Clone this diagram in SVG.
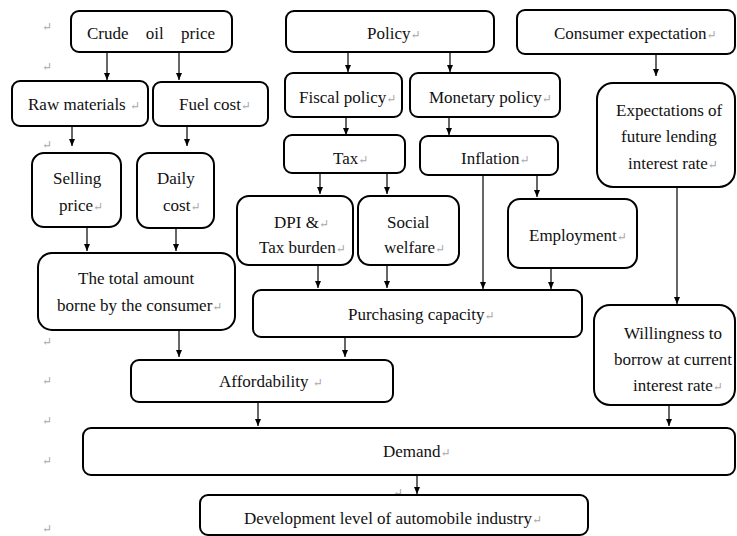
<svg xmlns="http://www.w3.org/2000/svg" width="737" height="536" viewBox="0 0 737 536">
<defs>
<marker id="ah" markerUnits="userSpaceOnUse" markerWidth="8" markerHeight="8" refX="7" refY="4" orient="auto">
<path d="M0,1 L7,4 L0,7 z" fill="#000"/>
</marker>
<style>
.b{fill:#fff;stroke:#000;stroke-width:2}
.t{font-size:17px;fill:#111}
.p{fill:#a8a8a8;font-size:12px}
.c line{stroke:#000;stroke-width:1.2;marker-end:url(#ah)}
</style>
</defs>
<rect width="737" height="536" fill="#fff"/>
<g font-family="'Liberation Serif', 'DejaVu Serif', serif">
<g id="marks" class="p">
<text x="42" y="31">↵</text>
<text x="42" y="71">↵</text>
<text x="42" y="149">↵</text>
<text x="42" y="187">↵</text>
<text x="42" y="227">↵</text>
<text x="42" y="346">↵</text>
<text x="42" y="385">↵</text>
<text x="42" y="425">↵</text>
<text x="42" y="465">↵</text>
<text x="42" y="533">↵</text>
<text x="393" y="497">↵</text>
</g>
<g class="c" id="connectors">
<line x1="107" y1="52" x2="107" y2="80"/>
<line x1="179" y1="52" x2="179" y2="80"/>
<line x1="348" y1="52" x2="348" y2="72"/>
<line x1="450" y1="52" x2="450" y2="72"/>
<line x1="656" y1="54" x2="656" y2="76"/>
<line x1="72" y1="126" x2="72" y2="146"/>
<line x1="187" y1="126" x2="187" y2="146"/>
<line x1="346" y1="117" x2="346" y2="135"/>
<line x1="449" y1="117" x2="449" y2="135"/>
<line x1="320" y1="173" x2="320" y2="194"/>
<line x1="387" y1="173" x2="387" y2="194"/>
<line x1="537" y1="175" x2="537" y2="197"/>
<line x1="483" y1="175" x2="483" y2="289"/>
<line x1="677" y1="187" x2="677" y2="304"/>
<line x1="87" y1="228" x2="87" y2="251"/>
<line x1="176" y1="228" x2="176" y2="251"/>
<line x1="318" y1="265" x2="318" y2="288"/>
<line x1="387" y1="265" x2="387" y2="288"/>
<line x1="551" y1="268" x2="551" y2="289"/>
<line x1="179" y1="331" x2="179" y2="357"/>
<line x1="345" y1="337" x2="345" y2="357"/>
<line x1="258" y1="403" x2="258" y2="426"/>
<line x1="669" y1="405" x2="669" y2="426"/>
<line x1="417" y1="476" x2="417" y2="494"/>
</g>
<g id="crude"><rect class="b" x="71" y="11" width="161" height="41" rx="8"/><text class="t" x="87" y="39" word-spacing="13">Crude oil price</text></g>
<g id="raw"><rect class="b" x="12" y="81" width="136" height="45" rx="8"/><text class="t" x="28" y="110">Raw materials <tspan class="p">↵</tspan></text></g>
<g id="fuel"><rect class="b" x="153" y="82" width="115" height="44" rx="8"/><text class="t" x="179" y="110">Fuel cost<tspan class="p">↵</tspan></text></g>
<g id="policy"><rect class="b" x="286" y="11" width="208" height="41" rx="8"/><text class="t" x="367" y="39">Policy<tspan class="p">↵</tspan></text></g>
<g id="consumer"><rect class="b" x="517" y="10" width="218" height="44" rx="8"/><text class="t" x="554" y="39">Consumer expectation<tspan class="p">↵</tspan></text></g>
<g id="fiscal"><rect class="b" x="285" y="73" width="117" height="44" rx="8"/><text class="t" x="299" y="103">Fiscal policy<tspan class="p">↵</tspan></text></g>
<g id="monetary"><rect class="b" x="410" y="73" width="150" height="44" rx="8"/><text class="t" x="429" y="103">Monetary policy<tspan class="p">↵</tspan></text></g>
<g id="tax"><rect class="b" x="284" y="135" width="121" height="38" rx="8"/><text class="t" x="333" y="164">Tax<tspan class="p">↵</tspan></text></g>
<g id="inflation"><rect class="b" x="420" y="136" width="138" height="39" rx="8"/><text class="t" x="461" y="164">Inflation<tspan class="p">↵</tspan></text></g>
<g id="expect"><rect class="b" x="597" y="83" width="138" height="104" rx="16"/><text class="t"><tspan x="616" y="116">Expectations of</tspan><tspan x="621" y="142">future lending</tspan><tspan x="628" y="169">interest rate<tspan class="p">↵</tspan></tspan></text></g>
<g id="selling"><rect class="b" x="32" y="153" width="89" height="74" rx="12"/><text class="t"><tspan x="53" y="184">Selling</tspan><tspan x="59" y="211">price<tspan class="p">↵</tspan></tspan></text></g>
<g id="daily"><rect class="b" x="137" y="153" width="77" height="75" rx="12"/><text class="t"><tspan x="157" y="184">Daily</tspan><tspan x="163" y="211">cost<tspan class="p">↵</tspan></tspan></text></g>
<g id="dpi"><rect class="b" x="237" y="196" width="116" height="69" rx="12"/><text class="t"><tspan x="274" y="228">DPI &amp;<tspan class="p">↵</tspan></tspan><tspan x="259" y="253">Tax burden<tspan class="p">↵</tspan></tspan></text></g>
<g id="social"><rect class="b" x="358" y="196" width="101" height="69" rx="12"/><text class="t"><tspan x="387" y="228">Social</tspan><tspan x="384" y="253">welfare<tspan class="p">↵</tspan></tspan></text></g>
<g id="employment"><rect class="b" x="508" y="199" width="129" height="69" rx="12"/><text class="t" x="529" y="241">Employment<tspan class="p">↵</tspan></text></g>
<g id="total"><rect class="b" x="38" y="253" width="197" height="77" rx="14"/><text class="t"><tspan x="78" y="284">The total amount</tspan><tspan x="57" y="311">borne by the consumer<tspan class="p">↵</tspan></tspan></text></g>
<g id="purchasing"><rect class="b" x="253" y="290" width="329" height="47" rx="8"/><text class="t" x="348" y="320">Purchasing capacity<tspan class="p">↵</tspan></text></g>
<g id="willingness"><rect class="b" x="594" y="305" width="141" height="100" rx="16"/><text class="t"><tspan x="624" y="339">Willingness to</tspan><tspan x="614" y="365">borrow at current</tspan><tspan x="633" y="391">interest rate<tspan class="p">↵</tspan></tspan></text></g>
<g id="affordability"><rect class="b" x="131" y="360" width="262" height="42" rx="8"/><text class="t" x="219" y="387">Affordability <tspan class="p">↵</tspan></text></g>
<g id="demand"><rect class="b" x="83" y="428" width="652" height="47" rx="8"/><text class="t" x="383" y="457">Demand<tspan class="p">↵</tspan></text></g>
<g id="development"><rect class="b" x="200" y="495" width="388" height="40" rx="8"/><text class="t" x="244" y="524">Development level of automobile industry<tspan class="p">↵</tspan></text></g>
</g>
</svg>
